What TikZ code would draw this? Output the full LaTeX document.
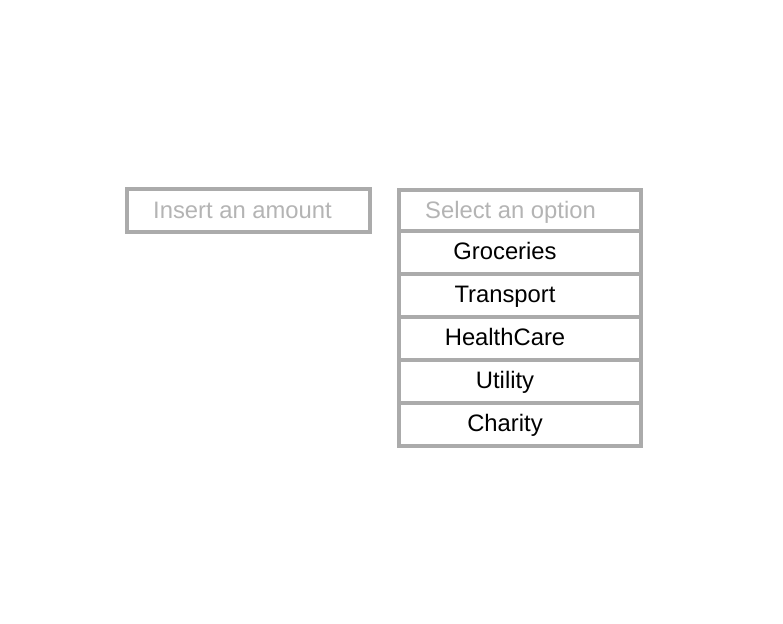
\documentclass[tikz,border=0pt]{standalone}
\usepackage{fontspec}
\setmainfont{Liberation Sans}
\definecolor{frame}{HTML}{ABABAB}
\definecolor{hint}{HTML}{B4B4B4}
\begin{document}
\begin{tikzpicture}[x=1pt,y=-1pt,
  field/.style={draw=frame,line width=4pt,fill=white,inner sep=0pt,outer sep=0pt},
  label/.style={anchor=base,inner sep=0pt,font=\fontsize{23.8}{28}\selectfont},
  ph/.style={label,text=hint},
  item/.style={label,text=black}]
\useasboundingbox (0,0) rectangle (783,623);
\node[field,minimum width=243pt,minimum height=43pt] (amount) at (248.5,210.5) {};
\node[ph] (amountText) at (242.5,218) {Insert an amount};
\node[field,minimum width=242pt,minimum height=41.5pt] (select) at (520,210.25) {};
\node[field,minimum width=242pt,minimum height=43pt] (r1) at (520,252.5) {};
\node[field,minimum width=242pt,minimum height=43pt] (r2) at (520,295.5) {};
\node[field,minimum width=242pt,minimum height=43pt] (r3) at (520,338.5) {};
\node[field,minimum width=242pt,minimum height=43pt] (r4) at (520,381.5) {};
\node[field,minimum width=242pt,minimum height=43pt] (r5) at (520,424.5) {};
\node[ph] (selectText) at (510.5,218) {Select an option};
\node[item] (t1) at (505,259) {Groceries};
\node[item] (t2) at (505,302) {Transport};
\node[item] (t3) at (505,345) {HealthCare};
\node[item] (t4) at (505,388) {Utility};
\node[item] (t5) at (505,431) {Charity};
\end{tikzpicture}
\end{document}
